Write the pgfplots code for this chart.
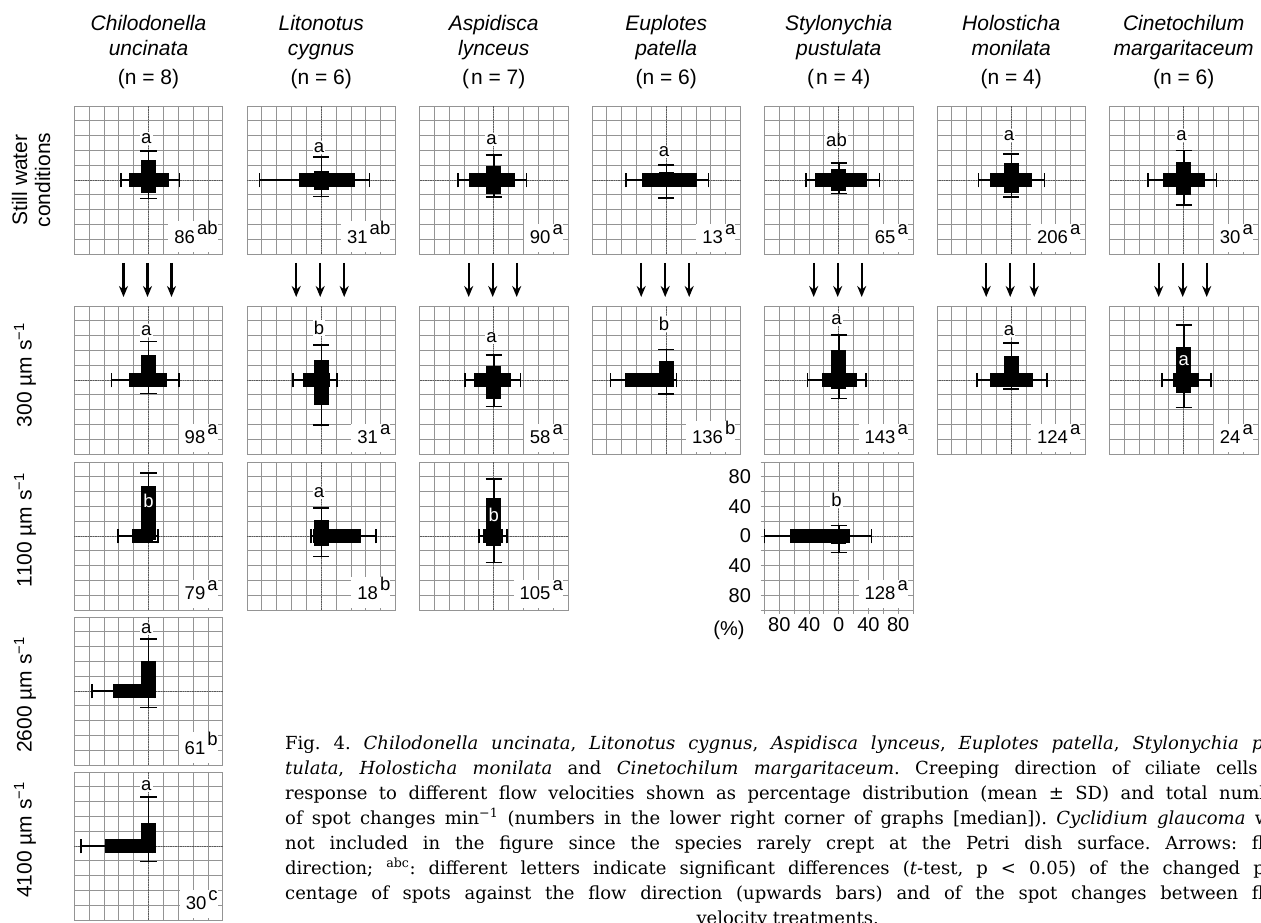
\documentclass[border=0pt]{standalone}
\usepackage{fontspec}
\setmainfont{Liberation Sans}
\newfontfamily\capfont{DejaVu Serif}
\usepackage{pgfplots}
\pgfplotsset{compat=1.18}
\usetikzlibrary{arrows.meta}

\definecolor{gridgray}{gray}{0.58}
\definecolor{zerogray}{gray}{0.35}
\newcommand\labfont{\fontsize{21}{23}\selectfont}
\newcommand\numfont{\fontsize{18.5}{20}\selectfont}
\newcommand\tickfont{\fontsize{20}{22}\selectfont}

\pgfplotsset{
 panel/.style={
  scale only axis, width=148.5pt, height=148pt,
  xmin=-100,xmax=100,ymin=-100,ymax=100,
  xtick={-100,-80,...,100}, ytick={-100,-80,...,100},
  xticklabels={,,,,,,,,,,}, yticklabels={,,,,,,,,,,},
  major tick length=0pt,
  grid=major,
  major grid style={gridgray, line width=0.9pt},
  axis line style={gridgray, line width=0.9pt},
  extra x ticks={0}, extra y ticks={0},
  extra x tick labels={}, extra y tick labels={},
  extra tick style={major grid style={zerogray, line width=0.7pt, densely dotted}},
  clip=false,
  /pgf/number format/assume math mode=true,
 },
 vb/.style={ybar, bar width=20, bar shift=0pt, fill=black, draw=none},
 hb/.style={xbar, bar width=20, bar shift=0pt, fill=black, draw=none},
 eb/.style={black, line width=1.5pt, mark=none},
}
% magnitudes: #1 up, #2 up+SD, #3 down, #4 down+SD, #5 left, #6 left+SD, #7 right, #8 right+SD
\newcommand{\cross}[8]{%
 \addplot[vb] coordinates {(0,#1)};
 \addplot[vb] coordinates {(0,-#3)};
 \addplot[hb] coordinates {(-#5,0)};
 \addplot[hb] coordinates {(#7,0)};
 \addplot[eb] coordinates {(0,#1) (0,#2)};
 \addplot[eb] coordinates {(-11,#2) (11,#2)};
 \addplot[eb] coordinates {(0,-#3) (0,-#4)};
 \addplot[eb] coordinates {(-11,-#4) (11,-#4)};
 \addplot[eb] coordinates {(-#5,0) (-#6,0)};
 \addplot[eb] coordinates {(-#6,-10) (-#6,10)};
 \addplot[eb] coordinates {(#7,0) (#8,0)};
 \addplot[eb] coordinates {(#8,-10) (#8,10)};
}
\newcommand{\lab}[2]{\node[fill=white, inner sep=1.2pt, font=\numfont] at (axis cs:-3,#1) {#2};}
\newcommand{\labw}[2]{\node[text=white, inner sep=0pt, font=\numfont] at (axis cs:0,#1) {#2};}
\newcommand{\num}[2]{\node[fill=white, inner sep=0pt, anchor=base east, font=\numfont, xshift=-5pt, yshift=10.7pt] at (axis cs:100,-100) {\rule[-9pt]{0pt}{28pt}\hspace{6pt}#1\hspace{2pt}\raisebox{9pt}{#2}\hspace{5pt}};}

\begin{document}
\begin{tikzpicture}
\path[use as bounding box] (0,0) rectangle (1261pt,922pt);

% ---------- titles ----------
\begin{scope}[every node/.style={anchor=base, font=\labfont}]
\node[font=\labfont\itshape] at (148.5pt,891pt) {Chilodonella};
\node[font=\labfont\itshape] at (148.5pt,866pt) {uncinata};
\node at (148.5pt,837pt) {(n = 8)};
\node[font=\labfont\itshape] at (321.2pt,891pt) {Litonotus};
\node[font=\labfont\itshape] at (321.2pt,866pt) {cygnus};
\node at (321.2pt,837pt) {(n = 6)};
\node[font=\labfont\itshape] at (493.7pt,891pt) {Aspidisca};
\node[font=\labfont\itshape] at (493.7pt,866pt) {lynceus};
\node at (493.7pt,837pt) {(\hspace{2pt}n = 7)};
\node[font=\labfont\itshape] at (666.2pt,891pt) {Euplotes};
\node[font=\labfont\itshape] at (666.2pt,866pt) {patella};
\node at (666.2pt,837pt) {(n = 6)};
\node[font=\labfont\itshape] at (838.7pt,891pt) {Stylonychia};
\node[font=\labfont\itshape] at (838.7pt,866pt) {pustulata};
\node at (838.7pt,837pt) {(\hspace{2pt}n = 4)};
\node[font=\labfont\itshape] at (1011.2pt,891pt) {Holosticha};
\node[font=\labfont\itshape] at (1011.2pt,866pt) {monilata};
\node at (1011.2pt,837pt) {(n = 4)};
\node[font=\labfont\itshape] at (1183.7pt,891pt) {Cinetochilum};
\node[font=\labfont\itshape] at (1183.7pt,866pt) {margaritaceum};
\node at (1183.7pt,837pt) {(n = 6)};
\end{scope}

% ---------- row labels ----------
\node[rotate=90, font=\labfont, align=center] at (31pt,742pt) {Still water\\conditions};
\node[rotate=90, font=\labfont] at (25pt,547pt) {300 µm s\textsuperscript{−1}};
\node[rotate=90, font=\labfont] at (25pt,392pt) {1100 µm s\textsuperscript{−1}};
\node[rotate=90, font=\labfont] at (25pt,227pt) {2600 µm s\textsuperscript{−1}};
\node[rotate=90, font=\labfont] at (25pt,82pt) {4100 µm s\textsuperscript{−1}};

% ---------- arrows ----------
\foreach \cx in {148.5,321.2,493.7,666.2,838.7,1011.2,1183.7}{
  \foreach \dx in {-25,-1,23}{
    \draw[line width=2.2pt, -{Stealth[length=11pt,width=9pt]}] ({(\cx+\dx)*1pt},659pt) -- ({(\cx+\dx)*1pt},625pt);
  }
}

% ================= Row 1: still water =================
\begin{axis}[panel, at={(74.3pt,816pt)}, anchor=north west]
\cross{27}{39}{18}{25}{26}{37}{28}{42}
\lab{56}{a} \num{86}{ab}
\end{axis}
\begin{axis}[panel, at={(247pt,816pt)}, anchor=north west]
\cross{12}{31}{13}{22}{30}{83}{45}{65}
\lab{44}{a} \num{31}{ab}
\end{axis}
\begin{axis}[panel, at={(419.5pt,816pt)}, anchor=north west]
\cross{19}{34}{19}{23}{34}{48}{28}{44}
\lab{55}{a} \num{90}{a}
\end{axis}
\begin{axis}[panel, at={(592pt,816pt)}, anchor=north west]
\cross{11}{20}{10}{24}{32}{54}{41}{57}
\lab{38}{a} \num{13}{a}
\end{axis}
\begin{axis}[panel, at={(764.5pt,816pt)}, anchor=north west]
\cross{15}{23}{15}{18}{32}{44}{38}{55}
\lab{54}{ab} \num{65}{a}
\end{axis}
\begin{axis}[panel, at={(937pt,816pt)}, anchor=north west]
\cross{23}{35}{17}{23}{28}{44}{28}{45}
\lab{60}{a} \num{206}{a}
\end{axis}
\begin{axis}[panel, at={(1109.5pt,816pt)}, anchor=north west]
\cross{24}{40}{20}{34}{28}{48}{28}{44}
\lab{60}{a} \num{30}{a}
\end{axis}

% ================= Row 2: 300 =================
\begin{axis}[panel, at={(74.3pt,616pt)}, anchor=north west]
\cross{34}{52}{9}{18}{27}{50}{25}{41}
\lab{67}{a} \num{98}{a}
\end{axis}
\begin{axis}[panel, at={(247pt,616pt)}, anchor=north west]
\cross{27}{47}{34}{61}{25}{38}{12}{21}
\lab{70}{b} \num{31}{a}
\end{axis}
\begin{axis}[panel, at={(419.5pt,616pt)}, anchor=north west]
\cross{19}{34}{26}{36}{27}{39}{23}{36}
\lab{57}{a} \num{58}{a}
\end{axis}
\begin{axis}[panel, at={(592pt,616pt)}, anchor=north west]
\cross{25}{41}{10}{19}{55}{75}{8}{14}
\lab{76}{b} \num{136}{b}
\end{axis}
\begin{axis}[panel, at={(764.5pt,616pt)}, anchor=north west]
\cross{40}{61}{12}{25}{22}{42}{24}{37}
\lab{82}{a} \num{143}{a}
\end{axis}
\begin{axis}[panel, at={(937pt,616pt)}, anchor=north west]
\cross{32}{50}{9}{12}{28}{46}{29}{48}
\lab{67}{a} \num{124}{a}
\end{axis}
\begin{axis}[panel, at={(1109.5pt,616pt)}, anchor=north west]
\cross{45}{74}{18}{37}{14}{29}{20}{37}
\labw{26}{a} \num{24}{a}
\end{axis}

% ================= Row 3: 1100 =================
\begin{axis}[panel, at={(74.3pt,460pt)}, anchor=north west]
\cross{67}{85}{5}{8}{22}{41}{6}{13}
\labw{48}{b} \num{79}{a}
\end{axis}
\begin{axis}[panel, at={(247pt,460pt)}, anchor=north west]
\cross{22}{38}{13}{28}{11}{14}{54}{74}
\lab{58}{a} \num{18}{b}
\end{axis}
\begin{axis}[panel, at={(419.5pt,460pt)}, anchor=north west]
\cross{52}{77}{13}{36}{15}{20}{12}{18}
\labw{29}{b} \num{105}{a}
\end{axis}
\begin{axis}[panel, at={(764.5pt,460pt)}, anchor=north west,
  xticklabels={,80,,40,,0,,40,,80,}, yticklabels={,80,,40,,0,,40,,80,},
  major tick length=4pt, tick align=outside, xtick pos=bottom, ytick pos=left,
  major tick style={gridgray, line width=0.9pt},
  tick label style={font=\tickfont}, yticklabel style={xshift=-6pt}]
\cross{10}{14}{11}{22}{66}{100}{15}{44}
\lab{49}{b} \num{128}{a}
\end{axis}
\node[font=\tickfont] at (729pt,292pt) {(\%)};

% ================= Row 4: 2600 =================
\begin{axis}[panel, at={(74.3pt,305pt)}, anchor=north west]
\cross{40}{70}{10}{22}{48}{76}{5}{8}
\lab{84}{a} \num{61}{b}
\end{axis}

% ================= Row 5: 4100 =================
\begin{axis}[panel, at={(74.3pt,150pt)}, anchor=north west]
\cross{31}{66}{9}{21}{59}{91}{4}{6}
\lab{82}{a} \num{30}{c}
\end{axis}

% ---------- caption ----------
\node[anchor=base west, inner sep=0pt] at (285pt,173pt) {\capfont\fontsize{18}{25}\selectfont\frenchspacing
\vtop{\hsize=1005pt \baselineskip=25pt \lineskiplimit=-20pt \parindent=0pt
\hbox to\hsize{Fig. 4. \textit{Chilodonella uncinata}, \textit{Litonotus cygnus}, \textit{Aspidisca lynceus}, \textit{Euplotes patella}, \textit{Stylonychia pus-}}
\hbox to\hsize{\textit{tulata}, \textit{Holosticha monilata} and \textit{Cinetochilum margaritaceum}. Creeping direction of ciliate cells in}
\hbox to\hsize{response to different flow velocities shown as percentage distribution (mean ± SD) and total number}
\hbox to\hsize{of spot changes min\textsuperscript{−1} (numbers in the lower right corner of graphs [median]). \textit{Cyclidium glaucoma} was}
\hbox to\hsize{not included in the figure since the species rarely crept at the Petri dish surface. Arrows: flow}
\hbox to\hsize{direction; \textsuperscript{abc}: different letters indicate significant differences (\textit{t}-test, p < 0.05) of the changed per-}
\hbox to\hsize{centage of spots against the flow direction (upwards bars) and of the spot changes between flow}
\hbox to\hsize{\hfil velocity treatments.\hfil}}};
\end{tikzpicture}
\end{document}
